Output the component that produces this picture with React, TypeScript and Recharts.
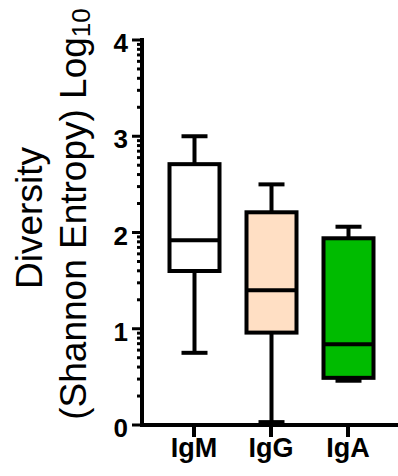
import React from "react";
import { Bar, ComposedChart, XAxis, YAxis } from "recharts";

const categories = ["IgM", "IgG", "IgA"];
const minValues = [0.75, 0.03, 0.46];
const q1Values = [1.6, 0.96, 0.49];
const medianValues = [1.92, 1.4, 0.84];
const q3Values = [2.71, 2.21, 1.94];
const maxValues = [3.0, 2.5, 2.06];
const boxColors = ["#ffffff", "#ffdfc4", "#00bb00"];

const majorTicks = [0, 1, 2, 3, 4];
// log-spaced minor ticks inside each decade, like Prism draws them
const minorTicks = majorTicks
  .slice(0, -1)
  .flatMap((d) => [2, 3, 4, 5, 6, 7, 8, 9].map((k) => d + Math.log10(k)));
const allTicks = [...majorTicks, ...minorTicks].sort((a, b) => a - b);

const data = categories.map((name, i) => ({
  name,
  range: [minValues[i], maxValues[i]],
  min: minValues[i],
  q1: q1Values[i],
  median: medianValues[i],
  q3: q3Values[i],
  max: maxValues[i],
  color: boxColors[i]
}));

const FONT = "'Liberation Sans', Arial, sans-serif";

function BoxShape(props: any) {
  const { x, y, width, height, payload } = props;
  const top = Math.min(y, y + height);
  const bottom = Math.max(y, y + height);
  const { min, max, q1, q3, median, color } = payload;
  // linear map from value to pixel, using the bar's own scaled ends
  const py = (v: number) => top + ((max - v) / (max - min)) * (bottom - top);
  const cx = x + width / 2;
  const boxW = 50;
  const capW = 26;
  return (
    <g>
      <line x1={cx} x2={cx} y1={py(max)} y2={py(min)} stroke="#000" strokeWidth={4} />
      <line x1={cx - capW / 2} x2={cx + capW / 2} y1={py(max)} y2={py(max)} stroke="#000" strokeWidth={4} />
      <line x1={cx - capW / 2} x2={cx + capW / 2} y1={py(min)} y2={py(min)} stroke="#000" strokeWidth={4} />
      <rect
        x={cx - boxW / 2}
        y={py(q3)}
        width={boxW}
        height={py(q1) - py(q3)}
        fill={color}
        stroke="#000"
        strokeWidth={4}
      />
      <line x1={cx - boxW / 2 - 1} x2={cx + boxW / 2 + 1} y1={py(median)} y2={py(median)} stroke="#000" strokeWidth={4} />
    </g>
  );
}

function YTick(props: any) {
  const { x, y, payload } = props;
  const isMajor = majorTicks.includes(payload.value);
  return (
    <g>
      <line x1={x - (isMajor ? 10 : 5)} x2={x} y1={y} y2={y} stroke="#000" strokeWidth={3} />
      {isMajor && (
        <text x={x - 14} y={y + 12} textAnchor="end" fontFamily={FONT} fontWeight="bold" fontSize={26} fill="#000">
          {payload.value}
        </text>
      )}
    </g>
  );
}

function XTick(props: any) {
  const { x, y, payload } = props;
  return (
    <text x={x} y={y + 18} textAnchor="middle" fontFamily={FONT} fontWeight="bold" fontSize={27} fill="#000">
      {payload.value}
    </text>
  );
}

export default function App() {
  return (
    <div style={{ position: "absolute", left: 0, top: 0, width: 398, height: 476, background: "#fff" }}>
      <ComposedChart width={398} height={476} data={data} margin={{ top: 40, right: 0, left: 0, bottom: 0 }}>
        <XAxis
          dataKey="name"
          height={51}
          padding={{ left: 13.5, right: 11.5 }}
          axisLine={{ stroke: "#000", strokeWidth: 4, strokeLinecap: "square" }}
          tickLine={{ stroke: "#000", strokeWidth: 4 }}
          tickSize={12}
          tick={<XTick />}
        />
        <YAxis
          type="number"
          width={142}
          domain={[0, 4]}
          ticks={allTicks}
          interval={0}
          tickSize={0}
          tickMargin={0}
          tickLine={false}
          axisLine={{ stroke: "#000", strokeWidth: 4, strokeLinecap: "square" }}
          tick={<YTick />}
        />
        <Bar dataKey="range" barSize={50} shape={<BoxShape />} isAnimationActive={false} />
      </ComposedChart>
      <svg width={140} height={476} style={{ position: "absolute", left: 0, top: 0 }}>
        <text
          x={42}
          y={218}
          transform="rotate(-90 42 218)"
          textAnchor="middle"
          fontFamily={FONT}
          fontSize={37}
          fill="#000"
        >
          Diversity
        </text>
        <text
          x={86}
          y={214}
          transform="rotate(-90 86 214)"
          textAnchor="middle"
          fontFamily={FONT}
          fontSize={37}
          fill="#000"
        >
          (Shannon Entropy) Log
          <tspan fontSize={26} dy={4}>10</tspan>
        </text>
      </svg>
    </div>
  );
}
